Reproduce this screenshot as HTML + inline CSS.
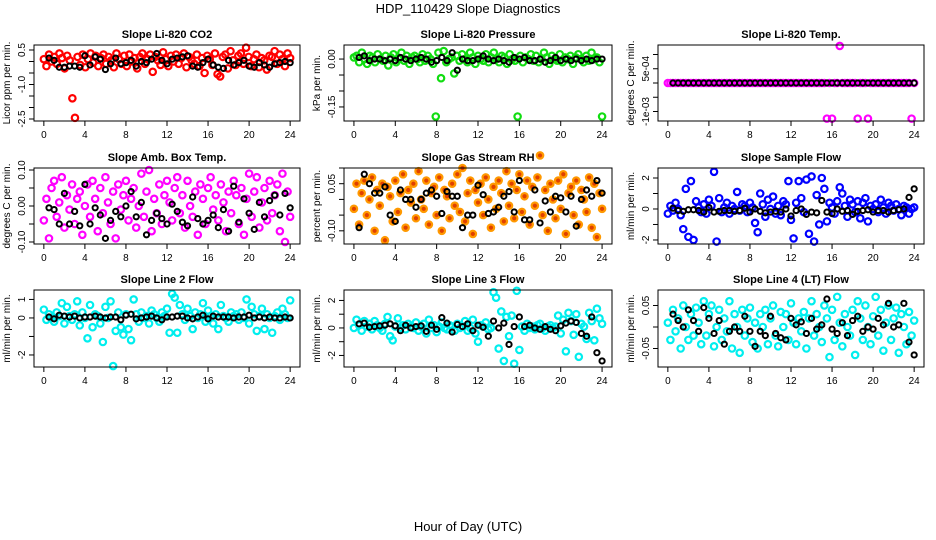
<!DOCTYPE html>
<html><head><meta charset="utf-8"><style>
body{margin:0;background:#fff;}
svg{display:block;font-family:"Liberation Sans",sans-serif;}
</style></head><body>
<svg id="c" width="936" height="540">
<text x="468" y="13" text-anchor="middle" font-size="13">HDP_110429  Slope Diagnostics</text>
<text x="468" y="531" text-anchor="middle" font-size="13">Hour of Day (UTC)</text>
</svg>
<script>
const xTicks=[0,4,8,12,16,20,24];
const titles=["Slope Li-820 CO2","Slope Li-820 Pressure","Slope Li-820 Temp.","Slope Amb. Box Temp.","Slope Gas Stream RH","Slope Sample Flow","Slope Line 2 Flow","Slope Line 3 Flow","Slope Line 4 (LT) Flow"];
const yLabels=["Licor ppm per min.","kPa per min.","degrees C per min.","degrees C per min.","percent per min.","ml/min per min.","ml/min per min.","ml/min per min.","ml/min per min."];
const colors=["#ff0000","#11dd11","#ff00ff","#ff00ff","#ff9900","#0000ff","#00eeee","#00eeee","#00eeee"];
const yDomains=[[-2.587,0.717],[-0.194,0.044],[-1.333e-3,1.333e-3],[-0.1056,0.1056],[-0.142,0.1],[-2.26,2.645],[-2.65,1.51],[-2.84,2.76],[-0.093,0.086]];
const yTicks=[[0.5,0,-0.5,-1,-1.5,-2,-2.5],[0,-0.05,-0.1,-0.15],[1e-3,5e-4,0,-5e-4,-1e-3],[0.1,0.05,0,-0.05,-0.1],[0.1,0.05,0,-0.05,-0.1],[2,1,0,-1,-2],[1,0,-1,-2],[2,1,0,-1,-2],[0.05,0,-0.05]];
const yTickLabels=[["0.5","","","-1.0","","","-2.5"],["0.00","","","-0.15"],["","5e-04","","","-1e-03"],["0.10","","0.00","","-0.10"],["","0.05","","","-0.10"],["2","","0","","-2"],["1","0","","-2"],["2","","0","","-2"],["0.05","","-0.05"]];
const col0=[0.1,-0.2,0.3,0.0,0.2,-0.1,0.35,0.15,-0.3,0.25,0.05,-1.6,-2.45,0.2,-0.15,0.3,-0.25,0.1,0.35,-0.05,0.25,-0.2,0.15,0.3,-0.1,0.2,0.05,-0.25,0.35,0.1,-0.1,0.25,-0.2,0.3,0.0,0.15,-0.3,0.2,0.35,-0.1,0.1,0.3,-0.45,0.2,0.05,-0.15,0.4,0.1,-0.2,0.25,0.0,0.3,-0.1,0.15,0.35,-0.25,0.2,0.05,-0.1,0.3,-0.2,0.15,-0.5,0.25,0.1,-0.15,0.35,-0.55,-0.65,0.2,0.3,-0.3,0.45,0.05,-0.15,0.25,0.35,-0.1,0.6,0.2,-0.2,0.1,0.3,-0.25,0.15,0.05,-0.35,0.25,0.2,0.45,-0.1,0.3,0.1,-0.2,0.35,0.15];
const blk0=[0.15,0.05,-0.25,-0.25,-0.2,-0.2,-0.25,0.25,-0.15,0.2,0.1,-0.35,-0.1,0.15,-0.1,-0.05,0.05,-0.2,0.0,-0.05,0.1,0.35,0.05,-0.1,0.1,0.15,0.2,0.25,-0.2,-0.25,-0.05,0.1,-0.15,-0.25,-0.3,0.05,-0.15,-0.05,0.05,-0.2,-0.25,-0.05,-0.15,-0.25,-0.1,-0.05,0.0,-0.05];
const col1=[0.005,0.01,-0.01,0.02,0.0,-0.015,0.01,0.005,-0.01,0.015,0.0,-0.005,0.01,-0.02,0.005,0.015,-0.01,0.0,0.02,-0.005,0.01,-0.015,0.005,0.01,0.0,-0.01,0.015,-0.005,0.01,0.0,-0.015,-0.18,0.02,-0.06,0.025,-0.01,0.0,0.005,-0.045,0.01,-0.005,0.015,0.0,-0.01,0.02,0.005,-0.015,0.01,0.0,-0.005,0.015,-0.01,0.005,0.02,0.0,-0.01,0.01,0.005,-0.015,0.015,0.0,-0.005,-0.18,0.01,-0.01,0.005,0.0,0.015,-0.005,0.01,-0.01,0.0,0.02,0.005,-0.015,0.01,0.0,-0.005,0.015,-0.01,0.005,0.0,0.01,-0.015,0.005,0.015,0.0,-0.01,0.01,-0.005,0.02,0.0,0.005,-0.01,-0.18];
const blk1=[0.005,0.01,-0.005,0.0,0.0,-0.005,0.0,-0.005,0.005,0.0,-0.005,0.0,0.005,0.0,-0.01,-0.005,0.005,-0.005,0.02,-0.035,0.0,-0.005,-0.005,0.0,0.01,0.0,-0.005,0.0,-0.005,-0.01,0.005,0.0,0.005,-0.005,-0.005,0.0,-0.01,-0.005,0.005,-0.005,0.0,-0.005,0.0,-0.005,0.0,-0.005,0.0,0.0];
const col2=[0,0,0,0,0,0,0,0,0,0, 0,0,0,0,0,0,0,0,0,0, 0,0,0,0,0,0,0,0,0,0, 0,0,0,0,0,0,0,0,0,0, 0,0,0,0,0,0,0,0,0,0, 0,0,0,0,0,0,0,0,0,0, 0,0,-1.25e-3,0,-1.25e-3,0,0,1.3e-3,0,0, 0,0,0,0,-1.25e-3,0,0,0,-1.25e-3,0, 0,0,0,0,0,0,0,0,0,0, 0,0,0,0,0,-1.25e-3,0];
const blk2=[0,0,0,0,0,0,0,0,0,0,0,0,0,0,0,0,0,0,0,0,0,0,0,0,0,0,0,0,0,0,0,0,0,0,0,0,0,0,0,0,0,0,0,0,0,0,0,0];
const col3=[-0.04,0.02,-0.09,0.05,0.07,-0.03,0.01,0.08,-0.06,0.03,-0.01,0.06,-0.05,0.02,0.04,-0.08,0.0,0.06,-0.03,0.07,0.02,-0.07,0.05,-0.02,0.08,0.01,-0.05,0.04,-0.09,0.06,-0.01,0.03,0.07,-0.04,0.02,0.05,-0.06,0.0,0.09,-0.03,0.04,0.1,-0.07,0.02,-0.02,0.06,-0.05,0.03,0.07,0.01,-0.04,0.05,0.08,-0.02,0.03,-0.06,0.07,0.0,-0.03,0.04,-0.08,0.06,0.02,-0.05,0.05,0.08,-0.01,0.03,-0.04,0.06,0.01,-0.07,0.04,-0.02,0.07,0.03,-0.05,0.05,-0.08,0.02,0.09,-0.03,0.04,0.08,-0.06,0.01,0.05,-0.04,0.07,-0.02,0.03,0.06,-0.07,0.09,-0.1,0.04,-0.03];
const blk3=[-0.005,-0.01,-0.05,0.035,-0.05,-0.015,-0.055,0.06,-0.05,-0.005,-0.025,-0.09,-0.04,-0.015,-0.03,0.0,0.04,-0.03,0.01,-0.08,-0.04,-0.02,-0.035,-0.05,0.005,-0.015,-0.045,-0.055,0.025,-0.035,-0.05,-0.04,-0.025,-0.06,-0.01,-0.07,0.055,-0.045,0.02,-0.02,-0.065,0.01,-0.03,0.015,0.03,-0.025,0.035,-0.005];
const col4=[-0.03,0.05,-0.08,0.02,0.06,-0.05,0.0,0.07,-0.1,0.03,-0.02,0.05,-0.13,0.04,0.01,-0.07,0.06,-0.04,0.02,0.08,-0.09,0.03,-0.01,0.05,-0.06,0.09,0.0,-0.03,0.06,-0.08,0.02,0.04,-0.05,0.07,-0.1,0.03,0.01,-0.06,0.05,-0.02,0.08,-0.04,0.1,-0.07,0.02,0.06,-0.11,0.03,-0.01,0.05,-0.05,0.07,0.0,-0.09,0.04,-0.03,0.06,0.02,-0.07,0.09,-0.02,0.05,-0.06,0.03,0.08,-0.04,0.01,0.06,-0.08,0.04,-0.02,0.07,0.14,-0.05,0.03,-0.1,0.05,0.0,-0.06,0.06,-0.03,0.08,-0.11,0.02,0.04,-0.05,0.06,-0.08,0.03,0.0,-0.04,0.07,-0.09,0.05,-0.12,0.02,-0.03];
const blk4=[-0.09,0.08,0.05,0.02,0.02,0.04,-0.05,-0.07,0.03,0.0,0.0,-0.025,0.0,0.02,0.03,0.01,-0.045,0.025,0.01,0.01,-0.09,-0.05,-0.05,0.045,0.015,-0.045,-0.04,-0.025,0.01,0.025,-0.04,0.06,-0.065,-0.065,0.03,-0.075,-0.005,-0.04,0.01,0.005,-0.04,0.01,-0.085,0.0,0.03,0.01,0.06,0.02];
const col5=[-0.3,0.2,-0.1,0.4,0.0,-0.4,-1.3,1.3,-1.8,1.8,-2.0,0.5,0.1,-0.2,0.3,-0.3,0.6,0.2,2.4,-2.1,0.7,-0.2,0.1,0.4,-0.3,0.2,0.0,1.1,-0.1,0.3,0.2,-0.2,0.4,0.1,-0.9,-1.5,1.0,0.3,-0.5,0.6,0.0,0.8,-0.3,0.2,-0.4,0.5,0.3,1.8,-0.7,-1.9,0.4,1.8,0.7,-0.2,1.9,-1.6,2.1,-2.1,0.9,-1.0,2.0,1.3,-0.8,0.4,0.1,-0.3,0.5,1.4,1.0,0.2,-0.5,0.6,0.3,-0.2,0.5,-0.6,0.4,0.7,-0.8,0.2,0.0,0.3,-0.2,0.6,0.1,-0.3,0.4,0.2,-0.1,0.3,0.0,-0.4,0.2,0.1,-0.3,0.0,0.1];
const blk5=[0.05,-0.1,-0.15,-0.05,-0.05,-0.1,-0.2,0.1,-0.2,-0.15,-0.1,-0.1,-0.15,-0.1,0.05,-0.2,0.0,-0.15,-0.25,-0.2,-0.15,-0.2,0.0,-0.45,-0.1,0.0,-0.35,-0.2,-0.25,0.55,-0.2,-0.3,0.0,-0.15,-0.1,-0.35,-0.15,-0.1,-0.05,-0.2,-0.1,-0.1,-0.2,-0.1,-0.05,0.0,0.75,1.3];
const col6=[0.45,-0.1,0.2,0.0,-0.2,0.3,0.1,0.8,-0.3,0.6,0.1,-0.1,0.2,0.9,-0.4,0.3,0.0,-1.1,0.7,-0.5,0.2,0.1,-0.3,-1.3,0.6,0.0,0.9,-2.6,-0.7,0.3,-0.5,-0.9,0.2,-0.6,-1.2,1.0,0.2,-0.2,0.3,0.0,0.1,-0.3,0.4,0.2,0.0,-0.2,0.3,0.1,0.5,-0.8,1.3,1.1,-0.8,0.7,0.2,-0.1,0.5,0.1,-0.6,0.3,0.0,0.2,0.8,-0.2,0.4,0.1,-0.3,0.2,-0.6,0.7,0.1,0.0,-0.2,0.3,0.1,0.2,-0.1,0.3,0.0,1.0,-0.3,0.6,0.2,-0.7,0.1,0.5,-0.6,0.2,0.0,-0.8,0.1,0.3,-0.1,0.5,0.2,0.0,0.95];
const blk6=[0.05,-0.05,0.15,0.1,0.05,0.1,0.0,0.05,0.05,0.1,0.05,0.0,0.05,0.05,-0.1,0.15,0.2,-0.05,0.0,0.05,0.1,0.0,-0.1,0.05,0.05,0.1,0.1,0.0,-0.05,0.05,0.15,-0.05,0.1,0.05,0.05,0.05,0.0,0.05,0.05,0.15,0.0,0.05,0.0,0.05,0.0,0.0,0.05,0.0];
const col7=[0.0,0.6,0.2,-0.2,0.5,0.1,0.3,-0.1,0.5,0.2,0.0,-0.2,0.3,0.8,-0.6,-0.9,0.1,0.7,0.0,0.2,-0.1,0.3,0.1,0.0,0.4,-0.2,0.1,0.3,-0.4,0.6,0.0,0.2,-0.3,0.1,0.4,0.0,-0.1,0.2,0.1,-0.2,0.3,0.0,0.1,0.5,-0.2,0.0,0.6,-0.4,-1.0,0.2,0.1,0.4,-0.1,0.0,2.6,2.2,-1.5,1.2,-2.4,0.8,-0.6,0.9,-2.6,2.7,-1.6,0.1,-0.2,0.3,0.0,0.1,-0.1,0.2,0.3,0.0,-0.2,0.1,0.2,0.0,0.1,0.9,-0.4,0.6,-1.7,1.1,0.5,-0.5,1.0,-2.1,0.3,0.1,-0.8,1.1,0.5,-0.9,1.4,0.7,0.3];
const blk7=[0.3,0.35,0.05,0.1,0.15,0.2,0.3,0.15,-0.2,0.2,0.0,0.1,0.15,-0.25,0.2,-0.1,0.75,0.35,-0.3,0.25,0.1,0.3,-0.2,0.2,0.05,-0.6,0.5,0.0,0.35,-1.2,0.1,0.8,0.1,0.2,0.0,-0.1,0.1,-0.1,-0.2,0.15,0.35,0.5,0.4,-0.4,-0.6,0.8,-1.8,-2.4];
const col8=[0.01,-0.03,0.04,-0.01,0.02,-0.05,0.05,0.0,-0.03,0.03,-0.02,0.045,0.01,-0.04,0.06,-0.02,0.03,0.05,-0.045,0.0,0.04,-0.03,0.02,-0.01,0.06,-0.05,0.03,0.0,-0.06,0.04,-0.02,0.02,0.045,-0.035,0.01,-0.05,0.03,0.0,0.04,-0.04,0.02,0.05,-0.02,-0.045,0.035,0.0,0.03,-0.03,0.055,0.01,-0.04,0.02,-0.01,0.035,-0.05,0.02,0.06,-0.02,0.03,0.0,-0.035,0.05,0.02,-0.07,0.04,-0.03,0.07,0.01,-0.045,0.03,0.0,-0.02,0.04,-0.065,0.06,0.02,-0.03,0.05,0.0,-0.04,0.025,0.07,-0.02,0.04,-0.055,0.01,0.05,-0.03,0.02,0.045,-0.06,0.03,0.0,-0.04,0.035,-0.02,0.015];
const blk8=[0.03,0.015,0.0,0.04,0.015,-0.01,0.045,0.02,-0.015,0.015,-0.04,-0.01,0.0,-0.01,0.025,-0.01,-0.045,-0.01,-0.02,0.025,-0.015,-0.025,-0.03,0.02,0.005,0.012,-0.015,0.02,-0.005,0.005,0.065,-0.005,-0.015,0.01,-0.02,0.015,0.025,-0.01,0.0,-0.005,0.02,0.005,0.055,0.0,0.005,0.055,-0.035,-0.065];
const colSeries=[col0,col1,col2,col3,col4,col5,col6,col7,col8];
const blkSeries=[blk0,blk1,blk2,blk3,blk4,blk5,blk6,blk7,blk8];

const NS="http://www.w3.org/2000/svg";
const svg=document.getElementById('c');
const colL=[34,344,658],colR=[300,612,924],rowT=[45,168,290],rowB=[121,244,367];
function mk(tag,attrs,parent){const e=document.createElementNS(NS,tag);for(const k in attrs)e.setAttribute(k,attrs[k]);(parent||svg).appendChild(e);return e;}
for(let p=0;p<9;p++){
  const c=p%3,r=Math.floor(p/3);
  const L=colL[c],R=colR[c],T=rowT[r],B=rowB[r];
  const g=mk('g',{});
  
  
  const xs=h=>L+(h+0.96)/25.92*(R-L);
  const [y0,y1]=yDomains[p];
  const ys=v=>B-(v-y0)/(y1-y0)*(B-T);
  const t=mk('text',{x:(L+R)/2,y:T-7,'text-anchor':'middle','font-size':11,'font-weight':'bold'},g);t.textContent=titles[p];
  
  
  const yl=mk('text',{x:0,y:0,'text-anchor':'middle','font-size':10,transform:`translate(${L-24},${(T+B)/2}) rotate(-90)`},g);yl.textContent=yLabels[p];
  
  
  const cs=colSeries[p],n=cs.length;
  cs.forEach((v,i)=>{const h=i*24/(n-1);
    const e=mk('circle',{cx:xs(h),cy:ys(v),r:3.2,fill:p==4?'#e04000':'none',stroke:colors[p],'stroke-width':2.2},g);
    
    });
  const bs=blkSeries[p],m=bs.length;
  bs.forEach((v,i)=>{const h=0.5+i*23.5/(m-1);
    const e=mk('circle',{cx:xs(h),cy:ys(v),r:2.6,fill:'none',stroke:'#000','stroke-width':2},g);
    
    });
  const box=mk('rect',{x:L,y:T,width:R-L,height:B-T,fill:'none',stroke:'#000','stroke-width':1},g);
  
  
  xTicks.forEach(h=>{const x=xs(h);mk('line',{x1:x,x2:x,y1:B,y2:B+5,stroke:'#000'},g);
    const tx=mk('text',{x:x,y:B+17,'text-anchor':'middle','font-size':10},g);tx.textContent=h;
    
    });
  yTicks[p].forEach((v,i)=>{const y=ys(v);mk('line',{x1:L-5,x2:L,y1:y,y2:y,stroke:'#000'},g);
    const lab=yTickLabels[p][i];
    if(lab){const ty=mk('text',{x:0,y:0,'text-anchor':'middle','font-size':10,transform:`translate(${L-9},${y}) rotate(-90)`},g);ty.textContent=lab;
      
      }});
}
</script>
</body></html>
